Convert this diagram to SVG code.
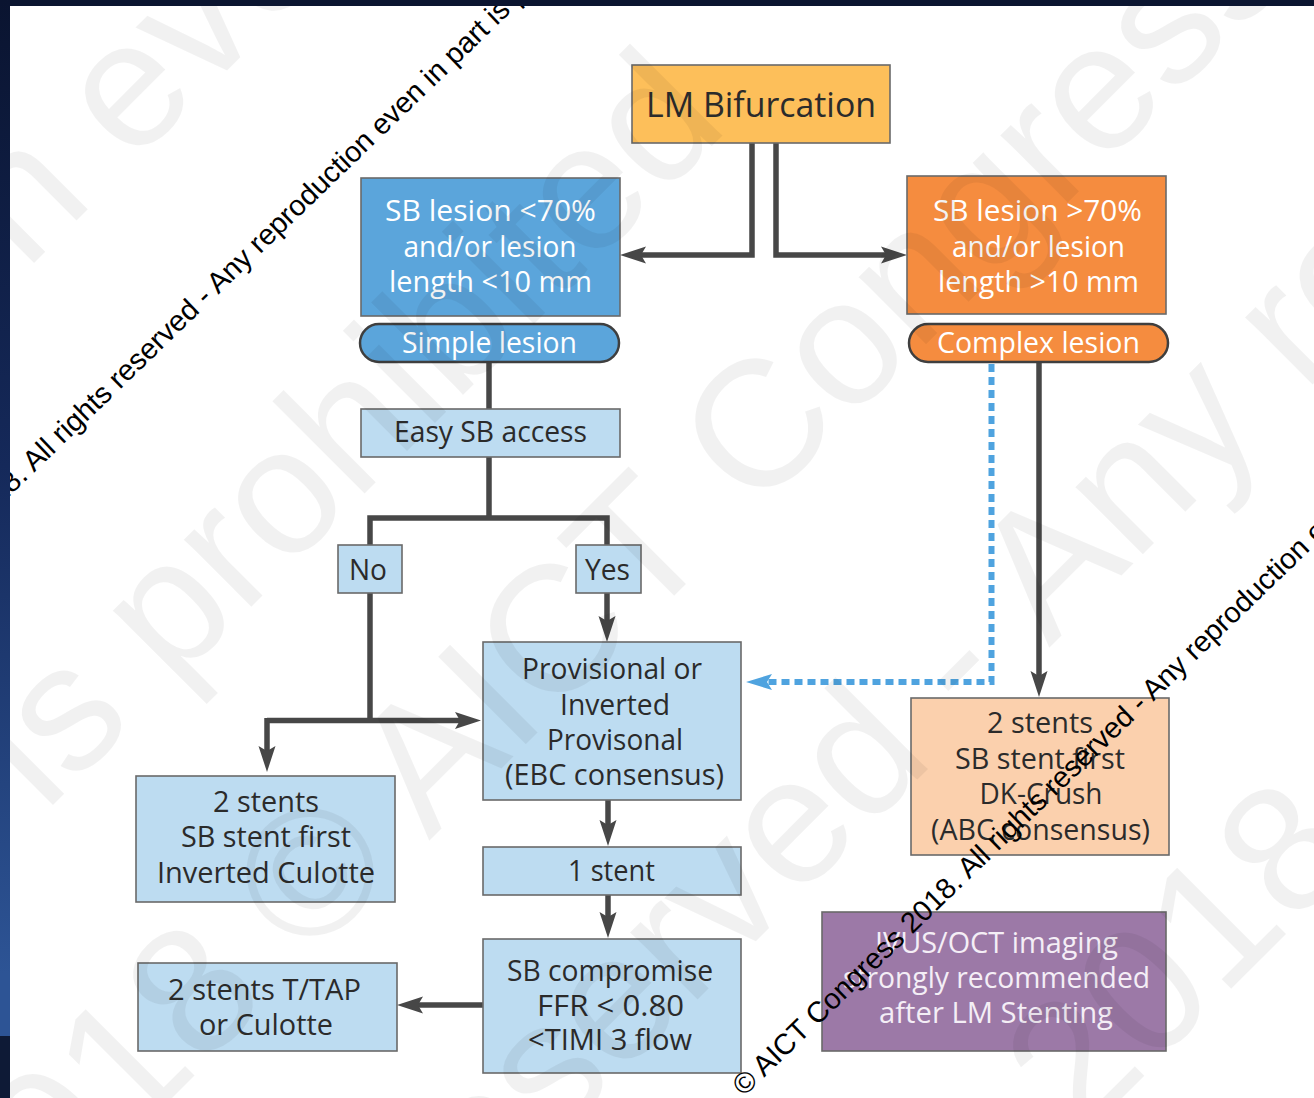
<svg xmlns="http://www.w3.org/2000/svg" width="1314" height="1098" viewBox="0 0 1314 1098">
<style>
.box{stroke:#6a6a6a;stroke-width:1.6}
.pill{stroke:#3f3f3f;stroke-width:2.5}
.lb{fill:#bddcf1}
.t{font-family:"Open Sans","Noto Sans",sans-serif;font-size:29px;text-anchor:middle;fill:#2b2b2b}
.w{fill:#ffffff}
.pu{fill:#f4eef6}
.ln{fill:none;stroke:#474747;stroke-width:5.5;stroke-linejoin:miter}
.dash{fill:none;stroke:#4fa3df;stroke-width:6;stroke-dasharray:8 5}
.wm{font-family:"Liberation Sans",Arial,sans-serif;font-size:180px;fill:#000;fill-opacity:0.055}
.ws{font-family:"Liberation Sans",Arial,sans-serif;font-size:29px;fill:#000}
</style>
<defs>
<linearGradient id="side" x1="0" y1="0" x2="0" y2="1">
<stop offset="0" stop-color="#0a1430"/>
<stop offset="0.45" stop-color="#15295a"/>
<stop offset="0.94" stop-color="#2d5495"/>
</linearGradient>
<marker id="ah" viewBox="0 0 26 18" markerWidth="26" markerHeight="18" refX="6" refY="9" orient="auto" markerUnits="userSpaceOnUse">
<path d="M0,0.5 L26,9 L0,17.5 L5,9 Z" fill="#474747"/>
</marker>
<marker id="ahb" viewBox="0 0 26 18" markerWidth="26" markerHeight="18" refX="6" refY="9" orient="auto" markerUnits="userSpaceOnUse">
<path d="M0,1 L26,9 L0,17 L5,9 Z" fill="#4fa3df"/>
</marker>
</defs>
<rect x="0" y="0" width="1314" height="1098" fill="#ffffff"/>

<g id="connectors">
<path class="ln" d="M752,143 V255 H640" marker-end="url(#ah)"/>
<path class="ln" d="M776,143 V255 H887" marker-end="url(#ah)"/>
<path class="ln" d="M489,362 V409"/>
<path class="ln" d="M489,457 V518 M370,545 V518 H607 V545"/>
<path class="ln" d="M607,593 V622" marker-end="url(#ah)"/>
<path class="ln" d="M370,593 V720.5"/>
<path class="ln" d="M267,720.5 H461" marker-end="url(#ah)"/>
<path class="ln" d="M267,718 V752" marker-end="url(#ah)"/>
<path class="ln" d="M608,800 V826" marker-end="url(#ah)"/>
<path class="ln" d="M608,895 V918" marker-end="url(#ah)"/>
<path class="ln" d="M483,1005 H417" marker-end="url(#ah)"/>
<path class="ln" d="M1039,362 V677" marker-end="url(#ah)"/>
<path class="dash" d="M991.5,364 V682 H766" marker-end="url(#ahb)"/>
</g>

<g id="lm"><rect class="box" x="632" y="65" width="258" height="78" fill="#fdbf5a"/><text class="t" x="761" y="117" style="font-size:35px" textLength="230" lengthAdjust="spacingAndGlyphs">LM Bifurcation</text></g>

<g id="sb-less"><rect class="box" x="361" y="178" width="259" height="138" fill="#5ba5db"/>
<text class="t w" x="490.5" y="221" textLength="211" lengthAdjust="spacingAndGlyphs">SB lesion &lt;70%</text>
<text class="t w" x="490" y="256.5" textLength="173" lengthAdjust="spacingAndGlyphs">and/or lesion</text>
<text class="t w" x="490.5" y="292" textLength="203" lengthAdjust="spacingAndGlyphs">length &lt;10 mm</text></g>

<g id="simple"><rect class="pill" x="360" y="324" width="259" height="38" rx="19" fill="#5ba5db"/><text class="t w" x="489.5" y="353" textLength="175" lengthAdjust="spacingAndGlyphs">Simple lesion</text></g>

<g id="easy"><rect class="box lb" x="361" y="409" width="259" height="48"/><text class="t" x="490.5" y="442" textLength="193" lengthAdjust="spacingAndGlyphs">Easy SB access</text></g>

<g id="no"><rect class="box lb" x="338" y="545" width="64" height="48"/><text class="t" x="368" y="580" textLength="38" lengthAdjust="spacingAndGlyphs">No</text></g>
<g id="yes"><rect class="box lb" x="576" y="545" width="65" height="48"/><text class="t" x="607.5" y="580" textLength="45" lengthAdjust="spacingAndGlyphs">Yes</text></g>

<g id="provisional"><rect class="box lb" x="483" y="642" width="258" height="158"/>
<text class="t" x="612" y="679" textLength="180" lengthAdjust="spacingAndGlyphs">Provisional or</text>
<text class="t" x="615" y="714.5" textLength="110" lengthAdjust="spacingAndGlyphs">Inverted</text>
<text class="t" x="615" y="750" textLength="136" lengthAdjust="spacingAndGlyphs">Provisonal</text>
<text class="t" x="614.5" y="785" textLength="219" lengthAdjust="spacingAndGlyphs">(EBC consensus)</text></g>

<g id="one-stent"><rect class="box lb" x="483" y="847" width="258" height="48"/><text class="t" x="611.5" y="881" textLength="87" lengthAdjust="spacingAndGlyphs">1 stent</text></g>

<g id="compromise"><rect class="box lb" x="483" y="939" width="258" height="134"/>
<text class="t" x="610" y="981" textLength="206" lengthAdjust="spacingAndGlyphs">SB compromise</text>
<text class="t" x="610.5" y="1015.5" textLength="147" lengthAdjust="spacingAndGlyphs">FFR &lt; 0.80</text>
<text class="t" x="610" y="1050" textLength="164" lengthAdjust="spacingAndGlyphs">&lt;TIMI 3 flow</text></g>

<g id="inv-culotte"><rect class="box lb" x="136" y="776" width="259" height="126"/>
<text class="t" x="266" y="812" textLength="106" lengthAdjust="spacingAndGlyphs">2 stents</text>
<text class="t" x="266" y="847" textLength="170" lengthAdjust="spacingAndGlyphs">SB stent first</text>
<text class="t" x="266" y="883" textLength="218" lengthAdjust="spacingAndGlyphs">Inverted Culotte</text></g>

<g id="ttap"><rect class="box lb" x="138" y="963" width="259" height="88"/>
<text class="t" x="264.5" y="1000" textLength="193" lengthAdjust="spacingAndGlyphs">2 stents T/TAP</text>
<text class="t" x="266" y="1035" textLength="134" lengthAdjust="spacingAndGlyphs">or Culotte</text></g>

<g id="sb-more"><rect class="box" x="907" y="176" width="259" height="138" fill="#f58c3f"/>
<text class="t w" x="1037.5" y="221" textLength="209" lengthAdjust="spacingAndGlyphs">SB lesion &gt;70%</text>
<text class="t w" x="1038.5" y="256.5" textLength="173" lengthAdjust="spacingAndGlyphs">and/or lesion</text>
<text class="t w" x="1038.5" y="292" textLength="201" lengthAdjust="spacingAndGlyphs">length &gt;10 mm</text></g>

<g id="complex"><rect class="pill" x="909" y="324" width="259" height="38" rx="19" fill="#f58c3f"/><text class="t w" x="1038.5" y="353" textLength="203" lengthAdjust="spacingAndGlyphs">Complex lesion</text></g>

<g id="dk-crush"><rect class="box" x="911" y="698" width="258" height="157" fill="#fbd0ad"/>
<text class="t" x="1040" y="733" textLength="106" lengthAdjust="spacingAndGlyphs">2 stents</text>
<text class="t" x="1040" y="768.5" textLength="170" lengthAdjust="spacingAndGlyphs">SB stent first</text>
<text class="t" x="1041" y="804" textLength="123" lengthAdjust="spacingAndGlyphs">DK-Crush</text>
<text class="t" x="1040.5" y="840" textLength="219" lengthAdjust="spacingAndGlyphs">(ABC consensus)</text></g>

<g id="ivus"><rect class="box" x="822" y="912" width="344" height="139" fill="#9c79a7"/>
<text class="t pu" x="996.5" y="953" textLength="243" lengthAdjust="spacingAndGlyphs">IVUS/OCT imaging</text>
<text class="t pu" x="996.5" y="988" textLength="307" lengthAdjust="spacingAndGlyphs">strongly recommended</text>
<text class="t pu" x="996" y="1023" textLength="234" lengthAdjust="spacingAndGlyphs">after LM Stenting</text></g>

<g id="watermark-large">
<text class="wm" transform="translate(131.5,166) rotate(-45)">even in part is prohibited</text>
<text class="wm" text-anchor="end" transform="translate(96,201) rotate(-45)">Any reproduction</text>
<text class="wm" transform="translate(44.5,813.5) rotate(-45)">is prohibited</text>
<text class="wm" transform="translate(754.6,515.6) rotate(-45)">Congress 2018</text>
<text class="wm" text-anchor="end" transform="translate(719,551) rotate(-45)">2018 © AICT</text>
<text class="wm" transform="translate(1049,648) rotate(-45)">Any reproduction</text>
<text class="wm" text-anchor="end" transform="translate(1014,683) rotate(-45)">All rights reserved -</text>
<text class="wm" transform="translate(1080,1140) rotate(-45)">2018 - All</text>
</g>

<g id="watermark-small">
<text class="ws" transform="translate(-191,690) rotate(-44)">© AICT Congress 2018. All rights reserved - Any reproduction even in part is prohibited</text>
<text class="ws" transform="translate(744,1097) rotate(-44)">© AICT Congress 2018. All rights reserved - Any reproduction even in part is prohibited</text>
</g>

<g id="frame">
<rect x="0" y="0" width="1314" height="6" fill="#0b1530"/>
<rect x="0" y="0" width="10" height="1036" fill="url(#side)"/>
<rect x="0" y="1036" width="10" height="62" fill="#0e1a36"/>
</g>
</svg>
